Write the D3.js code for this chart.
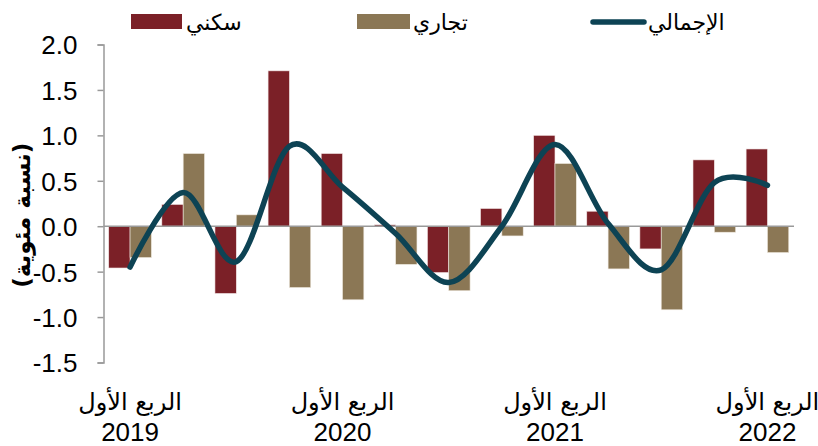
<!DOCTYPE html>
<html>
<head>
<meta charset="utf-8">
<script src="https://cdn.jsdelivr.net/npm/d3@7"></script>
<style>
  body { margin: 0; background: #fff; }
  svg { display: block; }
</style>
</head>
<body>
<script>
const quarters = ['2019Q1','2019Q2','2019Q3','2019Q4','2020Q1','2020Q2','2020Q3','2020Q4',
  '2021Q1','2021Q2','2021Q3','2021Q4','2022Q1'];
const residential = [-0.46, 0.24, -0.74, 1.71, 0.80, 0.015, -0.51, 0.195, 1.00, 0.165, -0.25, 0.73, 0.85];
const commercial = [-0.345, 0.80, 0.125, -0.675, -0.81, -0.42, -0.71, -0.107, 0.69, -0.47, -0.92, -0.066, -0.29];
const total = [-0.45, 0.37, -0.39, 0.88, 0.43, -0.08, -0.62, 0.0, 0.90, 0.03, -0.48, 0.48, 0.45];
const yTicks = [-1.5, -1.0, -0.5, 0.0, 0.5, 1.0, 1.5, 2.0];
const xLabels = { '2019Q1': ['الربع الأول', '2019'], '2020Q1': ['الربع الأول', '2020'],
  '2021Q1': ['الربع الأول', '2021'], '2022Q1': ['الربع الأول', '2022'] };
const seriesNames = ['سكني', 'تجاري', 'الإجمالي'];

const width = 818, height = 446;
const colors = { res: '#7b2027', com: '#8b7755', total: '#0d4354' };

const svg = d3.select('body').append('svg')
  .attr('width', width)
  .attr('height', height);

const x = d3.scaleBand()
  .domain(quarters)
  .range([103.5, 794]);

const xInner = d3.scaleBand()
  .domain(['res', 'com'])
  .range([0, x.bandwidth()])
  .paddingOuter(0.245);

const y = d3.scaleLinear()
  .domain([-1.5, 2.0])
  .range([362.5, 44.5]);

// y axis
const yAxis = svg.append('g')
  .attr('transform', 'translate(103.5,0)')
  .call(d3.axisLeft(y).tickValues(yTicks).tickFormat(d3.format('.1f')).tickSize(6).tickPadding(20));
yAxis.select('.domain').attr('stroke', '#999').attr('stroke-width', 1.5);
yAxis.selectAll('.tick line').attr('stroke', '#999').attr('stroke-width', 1.5);
yAxis.selectAll('.tick text')
  .style('font-family', '"Liberation Sans", Arial, sans-serif')
  .style('font-size', '26px')
  .attr('fill', '#000')
  .attr('dy', '0.36em')
  .text(d => d3.format('.1f')(d).replace('−', '-'));

svg.append('text')
  .attr('transform', `translate(22, ${y(0.12)}) rotate(-90)`)
  .attr('text-anchor', 'middle')
  .attr('dy', '0.35em')
  .style('font-family', '"DejaVu Sans", sans-serif')
  .style('font-size', '23px')
  .style('font-weight', 'bold')
  .text('(نسبة مئوية)');

// bars
const groups = svg.selectAll('.grp').data(quarters)
  .enter().append('g')
  .attr('class', 'grp')
  .attr('transform', d => `translate(${x(d)},0)`);

groups.append('rect')
  .attr('x', xInner('res'))
  .attr('width', xInner.bandwidth())
  .attr('y', (d, i) => y(Math.max(0, residential[i])))
  .attr('height', (d, i) => Math.abs(y(residential[i]) - y(0)))
  .attr('fill', colors.res)
  .attr('stroke', '#f2e6e6')
  .attr('stroke-width', 0.6);

groups.append('rect')
  .attr('x', xInner('com'))
  .attr('width', xInner.bandwidth())
  .attr('y', (d, i) => y(Math.max(0, commercial[i])))
  .attr('height', (d, i) => Math.abs(y(commercial[i]) - y(0)))
  .attr('fill', colors.com)
  .attr('stroke', '#efe9e0')
  .attr('stroke-width', 0.6);

// zero line
svg.append('line')
  .attr('x1', 103.5).attr('x2', 794)
  .attr('y1', y(0)).attr('y2', y(0))
  .attr('stroke', '#999')
  .attr('stroke-width', 1.5);

// total line
const line = d3.line()
  .x((d, i) => x(quarters[i]) + x.bandwidth() / 2)
  .y(d => y(d))
  .curve(d3.curveCardinal.tension(0));

svg.append('path')
  .datum(total)
  .attr('d', line)
  .attr('fill', 'none')
  .attr('stroke', colors.total)
  .attr('stroke-width', 5.5)
  .attr('stroke-linecap', 'round');

// x labels
const xl = svg.selectAll('.xl').data(quarters.filter(q => xLabels[q]))
  .enter().append('g')
  .attr('class', 'xl')
  .attr('transform', d => `translate(${x(d) + x.bandwidth() / 2},0)`);
xl.append('text')
  .attr('y', 410)
  .attr('text-anchor', 'middle')
  .style('font-family', '"DejaVu Sans", sans-serif')
  .style('font-size', '24px')
  .text(d => xLabels[d][0]);
xl.append('text')
  .attr('y', 441)
  .attr('text-anchor', 'middle')
  .style('font-family', '"Liberation Sans", Arial, sans-serif')
  .style('font-size', '26px')
  .text(d => xLabels[d][1]);

// legend
const legend = svg.append('g').style('font-family', '"DejaVu Sans", sans-serif').style('font-size', '22px');
legend.append('rect').attr('x', 131).attr('y', 14).attr('width', 51).attr('height', 15).attr('fill', colors.res);
legend.append('text').attr('x', 186).attr('y', 30).text(seriesNames[0]);
legend.append('rect').attr('x', 357).attr('y', 14).attr('width', 53).attr('height', 15).attr('fill', colors.com);
legend.append('text').attr('x', 413).attr('y', 30).text(seriesNames[1]);
legend.append('line').attr('x1', 593).attr('x2', 644).attr('y1', 22).attr('y2', 22)
  .attr('stroke', colors.total).attr('stroke-width', 5.5).attr('stroke-linecap', 'round');
legend.append('text').attr('x', 648).attr('y', 30).text(seriesNames[2]);
</script>
</body>
</html>
